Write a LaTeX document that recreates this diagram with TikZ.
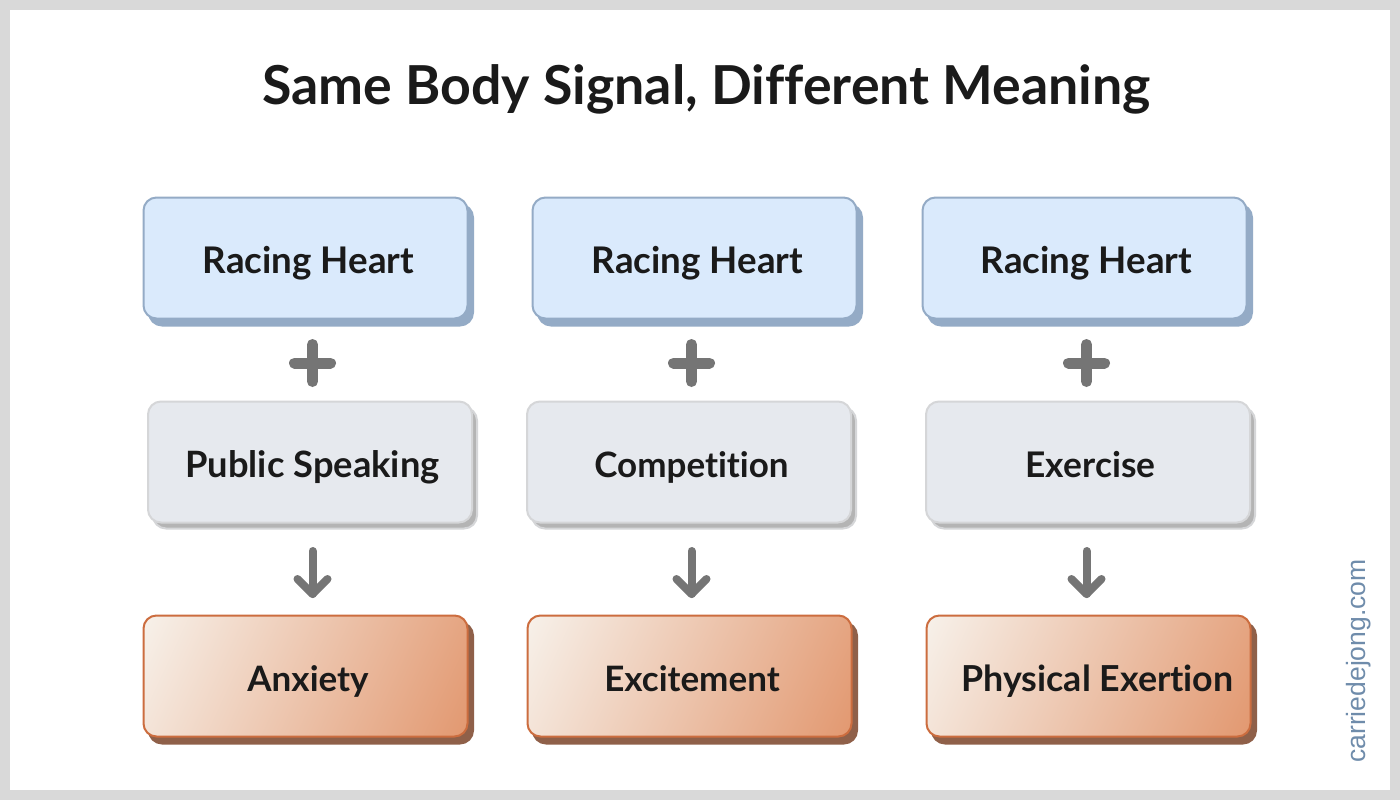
\documentclass[tikz,border=0pt]{standalone}
\usepackage{fontspec}
\setmainfont[Ligatures={NoCommon}]{Lato}
\newfontfamily\wmfont{Liberation Sans}
\definecolor{framegray}{HTML}{D9D9D9}
\definecolor{ink}{HTML}{1A1A1A}
\definecolor{bluefill}{HTML}{DAEAFC}
\definecolor{blueedge}{HTML}{94ABC6}
\definecolor{grayfill}{HTML}{E6E9EE}
\definecolor{grayedge}{HTML}{D5D6D8}
\definecolor{grayshadow}{HTML}{B4B4B4}
\definecolor{orangeedge}{HTML}{CC6D3F}
\definecolor{orangeshadow}{HTML}{8F6049}
\definecolor{orangelight}{HTML}{F7F1EA}
\definecolor{orangedark}{HTML}{E29870}
\definecolor{opgray}{HTML}{757575}
\definecolor{wmblue}{HTML}{6F8CAB}
\tikzset{
  x=1pt,y=-1pt,
  box/.style={rounded corners=13pt,minimum width=324pt,minimum height=121pt,inner sep=0pt,anchor=north west,line width=2pt},
  bluebox/.style={box,draw=blueedge,fill=bluefill},
  bluesh/.style={box,fill=blueedge,draw=blueedge},
  graybox/.style={box,draw=grayedge,fill=grayfill},
  graysh/.style={box,fill=grayshadow,draw=grayedge},
  orangebox/.style={box,draw=orangeedge,fill=orangedark,path picture={
    \shade[top color=orangelight,bottom color=orangedark,shading angle=65]
      ([shift={(-172,-172)}]path picture bounding box.center) rectangle
      ([shift={(172,172)}]path picture bounding box.center);}},
  orangesh/.style={box,fill=orangeshadow,draw=orangeshadow},
  lab/.style={font=\fontsize{#1}{44}\selectfont\bfseries,text=ink,inner sep=0pt,anchor=base},
  lab/.default=36,
  opline/.style={draw=opgray,line cap=round,line join=round},
}
\begin{document}
\begin{tikzpicture}
\useasboundingbox (0,0) rectangle (1400,800);
\fill[framegray] (0,0) rectangle (1400,800);
\fill[white] (10,10) rectangle (1390,790);
\node[font=\fontsize{53.7}{64}\selectfont\bfseries,text=ink,inner sep=0pt,anchor=base] (title) at (706.5,104.5) {Same Body Signal, Different Meaning};
\foreach \n/\x in {a/143,b/532,c/922}{
  \node[bluesh] (bs\n) at (\x+5,203.5) {};
  \node[bluebox] (b\n) at (\x-0.5,196.5) {};
}
\foreach \n/\x in {a/148,b/527,c/926}{
  \node[graysh] (gs\n) at (\x+4,406.5) {};
  \node[graybox] (g\n) at (\x-1,400.5) {};
}
\foreach \n/\x in {a/143,b/527,c/926}{
  \node[orangesh] (os\n) at (\x+5,621.5) {};
  \node[orangebox] (o\n) at (\x-0.5,614.5) {};
}
\node[lab=36.7] (tba) at (308.5,273) {Racing Heart};
\node[lab=36.7] (tbb) at (697.5,273) {Racing Heart};
\node[lab=36.7] (tbc) at (1086.5,273) {Racing Heart};
\node[lab=36.3] (tga) at (312.5,477) {Public Speaking};
\node[lab=35] (tgb) at (691.5,477) {Competition};
\node[lab=35.3] (tgc) at (1090.5,477) {Exercise};
\node[lab=35] (toa) at (308,691) {Anxiety};
\node[lab=35] (tob) at (692,691) {Excitement};
\node[lab=35.8] (toc) at (1097.5,691) {Physical Exertion};
\foreach \n/\x in {a/312.5,b/691.5,c/1086.5}{
  \coordinate (p\n) at (\x,363);
  \draw[opline,line width=11pt] ([yshift=-18.5pt]p\n) -- ([yshift=18.5pt]p\n);
  \draw[opline,line width=11pt] ([xshift=-18pt]p\n) -- ([xshift=18pt]p\n);
  \coordinate (s\n) at (\x,551);
  \coordinate (e\n) at (\x,594);
  \draw[opline,line width=8pt] (s\n) -- (e\n);
  \draw[opline,line width=8pt] ([shift={(-15,-15)}]e\n) -- (e\n) -- ([shift={(15,-15)}]e\n);
}
\node[font=\fontsize{26.5}{30}\selectfont\wmfont,text=wmblue,rotate=90,inner sep=0pt] (wm) at (1359,661) {carriedejong.com};
\end{tikzpicture}
\end{document}
